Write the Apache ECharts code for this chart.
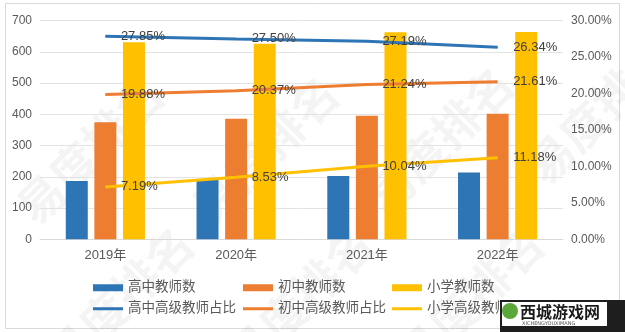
<!DOCTYPE html>
<html>
<head>
<meta charset="utf-8">
<script src="https://cdn.jsdelivr.net/npm/echarts@6/dist/echarts.min.js"></script>
<style>
html,body{margin:0;padding:0;background:#fff;}
#c{width:625px;height:332px;}
</style>
</head>
<body>
<div id="c"></div>
<script>
var categories = ['2019年', '2020年', '2021年', '2022年'];
var highTeachers = [187, 190, 203, 214];
var middleTeachers = [375, 386, 396, 402];
var primaryTeachers = [631, 626, 663, 664];
var highRatio = [27.85, 27.50, 27.19, 26.34];
var middleRatio = [19.88, 20.37, 21.24, 21.61];
var primaryRatio = [7.19, 8.53, 10.04, 11.18];
var barNames = ['高中教师数', '初中教师数', '小学教师数'];
var lineNames = ['高中高级教师占比', '初中高级教师占比', '小学高级教师占比'];
var leftTicks = [0, 700, 100];
var rightTicks = [0, 30, 5];

var FONT = "'Liberation Sans', 'Noto Sans CJK SC', sans-serif";
var BLUE = '#2E75B6', ORANGE = '#ED7D31', YELLOW = '#FFC000';

function barSeries(name, data, color) {
  return {
    name: name, type: 'bar', data: data, yAxisIndex: 0,
    barWidth: 22, barGap: '30%',
    itemStyle: { color: color }, z: 2
  };
}
function lineSeries(name, data, color) {
  return {
    name: name, type: 'line', data: data, yAxisIndex: 1,
    symbol: 'circle', symbolSize: 1, showSymbol: true,
    lineStyle: { color: color, width: 3 },
    itemStyle: { color: color },
    label: {
      show: true, position: 'right', distance: 15,
      color: '#404040', fontSize: 13, fontFamily: FONT,
      formatter: function (p) { return p.value.toFixed(2) + '%'; }
    },
    z: 3
  };
}
var colX = [93, 243, 392];
function legendItem(name, col, top, h) {
  return {
    data: [name], left: colX[col], top: top, padding: 0,
    itemWidth: 30, itemHeight: h, icon: 'rect',
    textStyle: { color: '#595959', fontSize: 13.5, fontFamily: FONT }
  };
}

function watermark(x, y) {
  return {
    type: 'text', x: x, y: y, rotation: Math.PI / 4, z: -10, silent: true,
    style: { text: '易度排名', font: 'bold 46px "Noto Sans CJK SC"', fill: 'rgba(0,0,0,0.045)', align: 'center', verticalAlign: 'middle' }
  };
}

var legends = [];
for (var i = 0; i < 3; i++) {
  legends.push(legendItem(barNames[i], i, 281, 7));
  legends.push(legendItem(lineNames[i], i, 302, 3));
}

var chart = echarts.init(document.getElementById('c'), null, { renderer: 'canvas' });
chart.setOption({
  animation: false,
  backgroundColor: '#fff',
  textStyle: { fontFamily: FONT },
  grid: { left: 40, right: 62, top: 20.7, bottom: 92.7, containLabel: false },
  xAxis: {
    type: 'category', data: categories,
    axisLine: { lineStyle: { color: '#d9d9d9' } },
    axisTick: { show: false },
    axisLabel: { color: '#595959', fontSize: 13, margin: 10, fontFamily: FONT }
  },
  yAxis: [
    {
      type: 'value', min: leftTicks[0], max: leftTicks[1], interval: leftTicks[2],
      axisLine: { show: false }, axisTick: { show: false },
      splitLine: { lineStyle: { color: '#e3e3e3' } },
      axisLabel: { color: '#595959', fontSize: 12, margin: 8, fontFamily: FONT }
    },
    {
      type: 'value', min: rightTicks[0], max: rightTicks[1], interval: rightTicks[2],
      axisLine: { show: false }, axisTick: { show: false },
      splitLine: { show: false },
      axisLabel: { color: '#595959', fontSize: 12, margin: 8, fontFamily: FONT,
        formatter: function (v) { return v.toFixed(2) + '%'; } }
    }
  ],
  legend: legends,
  series: [
    barSeries(barNames[0], highTeachers, BLUE),
    barSeries(barNames[1], middleTeachers, ORANGE),
    barSeries(barNames[2], primaryTeachers, YELLOW),
    lineSeries(lineNames[0], highRatio, BLUE),
    lineSeries(lineNames[1], middleRatio, ORANGE),
    lineSeries(lineNames[2], primaryRatio, YELLOW)
  ],
  graphic: [
    { type: 'rect', shape: { x: 5.5, y: 3.5, width: 614, height: 325 }, style: { fill: 'none', stroke: '#d9d9d9', lineWidth: 1 }, z: -20, silent: true },
    watermark(90, 150), watermark(265, 150), watermark(440, 140), watermark(600, 110),
    watermark(120, 300), watermark(300, 300), watermark(470, 300),
    { type: 'rect', shape: { x: 500, y: 300, width: 125, height: 32 }, style: { fill: '#1e1e1e' }, z: 100 },
    { type: 'rect', shape: { x: 502, y: 302, width: 105, height: 24 }, style: { fill: '#ffffff' }, z: 101 },
    { type: 'circle', shape: { cx: 510, cy: 311, r: 8 }, style: { fill: '#5aa83a' }, z: 102 },
    { type: 'text', x: 520, y: 312, z: 102, style: { text: '西城游戏网', font: 'bold 16px "Noto Sans CJK SC"', fill: '#1a1a1a', verticalAlign: 'middle' } },
    { type: 'text', x: 522, y: 324, z: 102, style: { text: 'XICHENGYOUXIMANG', font: '5px "DejaVu Sans"', fill: '#555', verticalAlign: 'middle' } }
  ]
});
</script>
</body>
</html>
